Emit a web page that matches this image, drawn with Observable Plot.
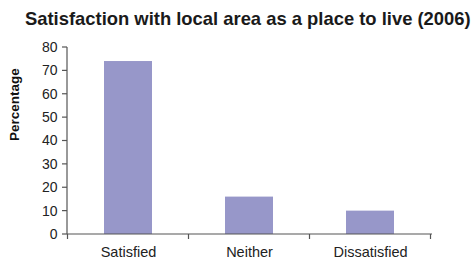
<!DOCTYPE html>
<html><head><meta charset="utf-8">
<script src="https://cdn.jsdelivr.net/npm/d3@7"></script>
<script src="https://cdn.jsdelivr.net/npm/@observablehq/plot@0.6"></script>
<style>
body{margin:0;background:#fff;font-family:"Liberation Sans",Arial,sans-serif;}
#title{height:35px;box-sizing:border-box;padding:9px 0 0 25px;font-weight:bold;font-size:18.4px;line-height:20px;color:#1a1a1a;white-space:nowrap;}
</style></head><body>
<div id="title">Satisfaction with local area as a place to live (2006)</div>
<div id="chart"></div>
<script>
const categories = ["Satisfied", "Neither", "Dissatisfied"];
const values = [74, 16, 10];
const yTicks = [0, 10, 20, 30, 40, 50, 60, 70, 80];
const yLabel = "Percentage";
const data = categories.map((c, i) => ({category: c, value: values[i]}));

const axes = (index, scales, vals, dims) => {
  const g = d3.create("svg:g").attr("stroke", "#555").attr("stroke-width", 1.2);
  const x = scales.x, y = scales.y;
  const step = x.step ? x.step() : x.bandwidth() / 0.4;
  const x0 = dims.marginLeft, x1 = dims.width - dims.marginRight;
  const y0 = y(0), yTop = y(80);
  g.append("line").attr("x1", x0).attr("x2", x1).attr("y1", y0).attr("y2", y0);
  g.append("line").attr("x1", x0).attr("x2", x0).attr("y1", y0).attr("y2", yTop);
  const bounds = [x(categories[0]) + x.bandwidth()/2 - step/2, ...categories.map(c => x(c) + x.bandwidth()/2 + step/2)];
  for (const b of bounds) g.append("line").attr("x1", b).attr("x2", b).attr("y1", y0).attr("y2", y0 + 5);
  for (const t of yTicks) g.append("line").attr("x1", x0 - 5).attr("x2", x0).attr("y1", y(t)).attr("y2", y(t));
  return g.node();
};

const chart = Plot.plot({
  width: 474, height: 225,
  marginTop: 12, marginBottom: 26, marginLeft: 67, marginRight: 42,
  style: {fontFamily: "Liberation Sans, Arial, sans-serif", fontSize: "14px", color: "#222", background: "#fff"},
  x: {domain: categories, paddingInner: 0.6, paddingOuter: 0.3, label: null},
  y: {domain: [0, 80], label: null},
  marks: [
    Plot.barY(data, {x: "category", y: "value", fill: "#9797c9"}),
    Plot.axisX({tickSize: 0, tickPadding: 12, fontSize: 14.5, fill: "#222"}),
    Plot.axisY({ticks: yTicks, tickSize: 0, tickPadding: 10, fontSize: 14, fill: "#222"}),
    axes,
    Plot.text([yLabel], {frameAnchor: "left", text: d => d, rotate: -90, dx: -53, fontWeight: "bold", fontSize: 13.5, fill: "#111"})
  ]
});
document.getElementById("chart").appendChild(chart);
</script></body></html>
